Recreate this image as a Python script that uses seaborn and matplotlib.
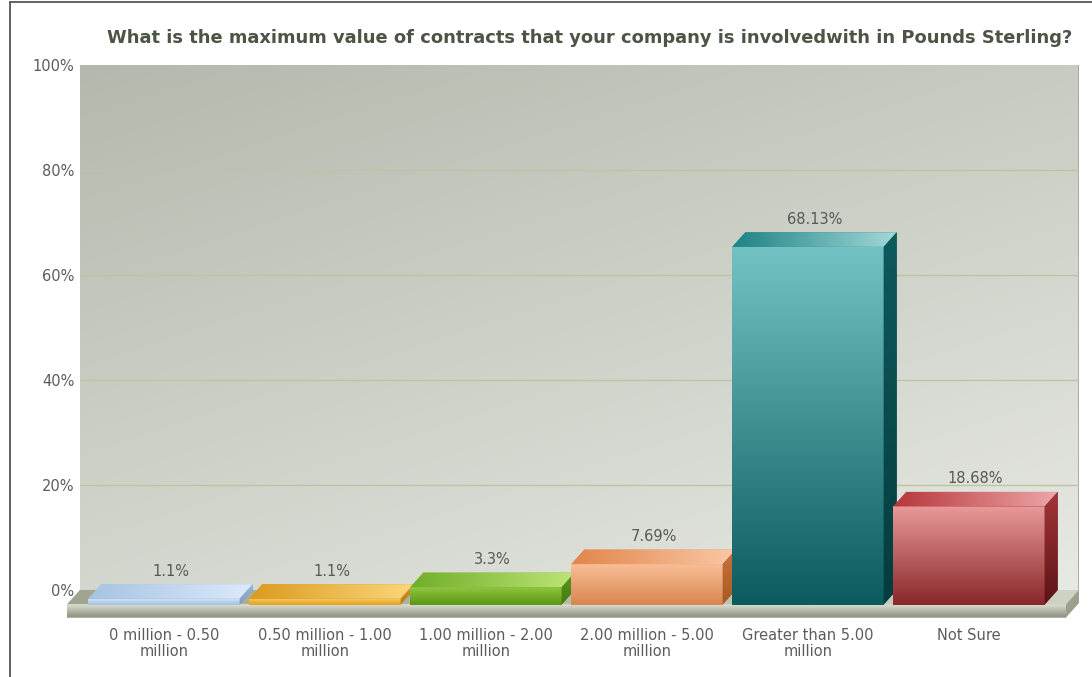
import numpy as np
import pandas as pd
import seaborn as sns
import matplotlib
matplotlib.use("Agg")
import matplotlib.pyplot as plt
from matplotlib.patches import Polygon
from matplotlib.lines import Line2D
from matplotlib.colors import to_rgb

# ---- data -------------------------------------------------------------
categories = [
    "0 million - 0.50\nmillion",
    "0.50 million - 1.00\nmillion",
    "1.00 million - 2.00\nmillion",
    "2.00 million - 5.00\nmillion",
    "Greater than 5.00\nmillion",
    "Not Sure",
]
values = [1.1, 1.1, 3.3, 7.69, 68.13, 18.68]
value_labels = ["1.1%", "1.1%", "3.3%", "7.69%", "68.13%", "18.68%"]
y_ticks = [0, 20, 40, 60, 80, 100]
y_tick_labels = ["0%", "20%", "40%", "60%", "80%", "100%"]
title = "What is the maximum value of contracts that your company is involvedwith in Pounds Sterling?"

# per-bar shading: front (top, bottom), top face (left, right), side (top, bottom)
front_top = ["#d2e4f6", "#f7cd5c", "#93c843", "#f9bf98", "#74c3c4", "#ea9a9b"]
front_bot = ["#a7c5e5", "#e6a526", "#5e9818", "#d98751", "#0b5b5f", "#8a282b"]
roof_left = ["#a6c3e3", "#dc9a1e", "#6fae28", "#e2854a", "#1d8284", "#b6363a"]
roof_right = ["#dceafa", "#f9d77c", "#bde477", "#fac8a6", "#a3d8d8", "#eda6a8"]
side_top = ["#9ab8d8", "#d49a24", "#5a9a1c", "#c8723a", "#0e5a5c", "#a53539"]
side_bot = ["#7f9ec0", "#b88014", "#447a10", "#a85a24", "#053c3e", "#5c1417"]

sns.set_style("white")
plt.rcParams["font.family"] = ["DejaVu Sans"]

W, H = 1092, 677
fig = plt.figure(figsize=(W / 100, H / 100), dpi=100)
fig.patch.set_facecolor("white")

# plotting wall in pixel terms: x 80..1079, y 65..590
ax = fig.add_axes([80 / W, (H - 590) / H, 999 / W, 525 / H])
XL = (-0.6025, 5.6025)
YL = (0, 100)
px_x = 999 / (XL[1] - XL[0])
px_y = 525 / (YL[1] - YL[0])
# depth of the pseudo-3D extrusion, in data units
dxd = -13 / px_x
dyd = -14.5 / px_y


def gradient(clip, extent, c0, c1, vertical=True, zorder=3):
    """Fill `clip` with a linear gradient from c0 (bottom/left) to c1."""
    a, b = np.array(to_rgb(c0)), np.array(to_rgb(c1))
    t = np.linspace(0, 1, 256)
    arr = a[None, :] * (1 - t)[:, None] + b[None, :] * t[:, None]
    img = arr[:, None, :] if vertical else arr[None, :, :]
    im = ax.imshow(img, extent=extent, origin="lower", aspect="auto",
                   interpolation="bilinear", zorder=zorder)
    im.set_clip_box(fig.bbox)
    im.set_clip_path(clip)
    return im


# ---- wall background --------------------------------------------------
gx, gy = np.meshgrid(np.linspace(0, 1, 200), np.linspace(0, 1, 200))
tt = np.clip(0.62 * (1 - gy) + 0.38 * gx, 0, 1)
dark, light = np.array(to_rgb("#b4b9ad")), np.array(to_rgb("#e7e9e3"))
wall = dark[None, None, :] * (1 - tt[..., None]) + light[None, None, :] * tt[..., None]
ax.imshow(wall, extent=(0, 1, 0, 1), transform=ax.transAxes, origin="lower",
          aspect="auto", interpolation="bilinear", zorder=0)
ax.add_line(Line2D([1, 1], [0, 1], transform=ax.transAxes, color="#a3a79c",
                   lw=2, zorder=1))

for yv in y_ticks[1:-1]:
    ax.axhline(yv, color="#bfc4a0", lw=1, zorder=1)

# ---- floor slab -------------------------------------------------------
slab = 13 / px_y
xl, xr = XL
floor_top = Polygon([(xl + dxd, dyd), (xr + dxd, dyd), (xr, 0), (xl, 0)],
                    closed=True, facecolor="#a7ac97", edgecolor="none",
                    zorder=2, clip_on=False)
ax.add_patch(floor_top)
gradient(floor_top, (xl + dxd, xr, dyd, 0), "#9fa58f", "#cfd3c3",
         vertical=False, zorder=2)
floor_front = Polygon([(xl + dxd, dyd - slab), (xr + dxd, dyd - slab),
                       (xr + dxd, dyd), (xl + dxd, dyd)],
                      closed=True, facecolor="#b0b5a4", edgecolor="none",
                      zorder=2, clip_on=False)
ax.add_patch(floor_front)
gradient(floor_front, (xl + dxd, xr + dxd, dyd - slab, dyd), "#8c9380", "#dde0d3",
         zorder=2)
floor_side = Polygon([(xr + dxd, dyd - slab), (xr, -slab), (xr, 0), (xr + dxd, dyd)],
                     closed=True, facecolor="#9aa08c", edgecolor="none",
                     zorder=2, clip_on=False)
ax.add_patch(floor_side)

# ---- bars -------------------------------------------------------------
df = pd.DataFrame({"category": categories, "value": values})
sns.barplot(data=df, x="category", y="value", hue="category",
            palette=front_bot, width=0.94, saturation=1, legend=False,
            ax=ax, zorder=3)

bars = sorted([b for c in ax.containers for b in c if b.get_height() > 0],
              key=lambda p: p.get_x())
for i, bar in enumerate(bars):
    z = 3 + i * 0.1
    x0, w, h = bar.get_x(), bar.get_width(), bar.get_height()
    # front face: shifted toward the viewer
    bar.set_x(x0 + dxd)
    bar.set_y(dyd)
    bar.set_edgecolor("none")
    bar.set_zorder(z)
    bar.set_clip_on(False)
    gradient(bar, (x0 + dxd, x0 + w + dxd, dyd, h + dyd),
             front_bot[i], front_top[i], zorder=z + 0.01)
    # top face
    roof = Polygon([(x0 + dxd, h + dyd), (x0 + w + dxd, h + dyd),
                    (x0 + w, h), (x0, h)], closed=True,
                   facecolor=roof_left[i], edgecolor="none",
                   zorder=z + 0.02, clip_on=False)
    ax.add_patch(roof)
    gradient(roof, (x0 + dxd, x0 + w, h + dyd, h), roof_left[i], roof_right[i],
             vertical=False, zorder=z + 0.03)
    # right side face
    side = Polygon([(x0 + w + dxd, dyd), (x0 + w, 0), (x0 + w, h),
                    (x0 + w + dxd, h + dyd)], closed=True,
                   facecolor=side_bot[i], edgecolor="none",
                   zorder=z + 0.02, clip_on=False)
    ax.add_patch(side)
    gradient(side, (x0 + w + dxd, x0 + w, dyd, h), side_bot[i], side_top[i],
             zorder=z + 0.03)
    # value label
    ax.text(x0 + w / 2 + dxd / 2, values[i] + 13 / px_y, value_labels[i],
            ha="center", va="center", fontsize=10.5, color="#585858", zorder=10)

# ---- axes styling -----------------------------------------------------
ax.set_xlim(*XL)
ax.set_ylim(*YL)
ax.set_xticks(np.arange(len(categories)) + dxd, labels=categories)
ax.set_yticks(y_ticks, labels=y_tick_labels)
ax.tick_params(axis="x", length=0, pad=27, labelsize=10.5, labelcolor="#5c5c5c")
ax.tick_params(axis="y", length=0, pad=4, labelsize=10.5, labelcolor="#5c5c5c")
for t in ax.get_xticklabels():
    t.set_linespacing(1.1)
ax.set_xlabel("")
ax.set_ylabel("")
for s in ax.spines.values():
    s.set_visible(False)
ax.grid(False)

fig.text(590 / W, 1 - 38 / H, title, ha="center", va="center",
         fontsize=12.9, fontweight="bold", color="#4b5445")

# page frame
fig.add_artist(Line2D([10 / W, 1], [1 - 2 / H, 1 - 2 / H], color="#555555", lw=1.3))
fig.add_artist(Line2D([10 / W, 10 / W], [0, 1 - 2 / H], color="#555555", lw=1.3))

fig.savefig("out.png", dpi=100, facecolor="white")
